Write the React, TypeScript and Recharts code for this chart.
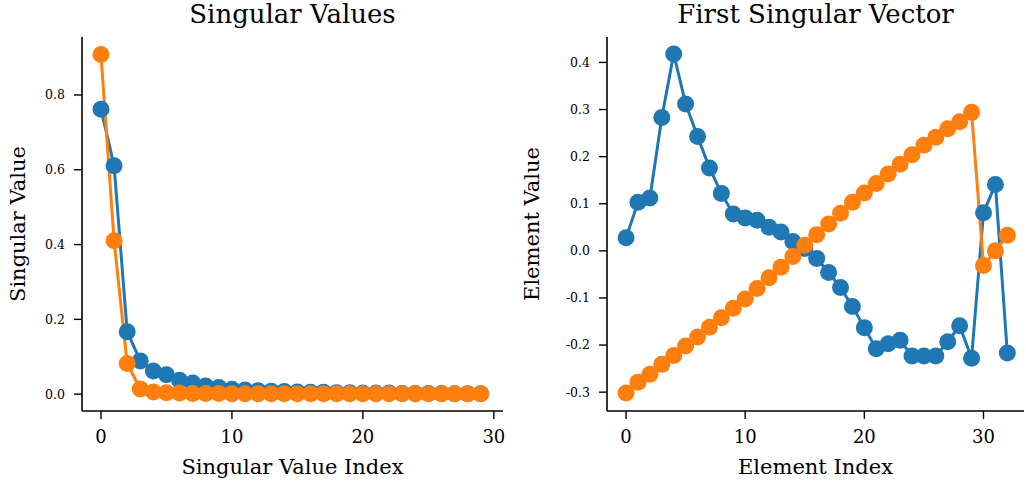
import { LineChart, Line, XAxis, YAxis, Label } from 'recharts';

const svIndex = [0, 1, 2, 3, 4, 5, 6, 7, 8, 9, 10, 11, 12, 13, 14, 15, 16, 17, 18, 19, 20, 21, 22, 23, 24, 25, 26, 27, 28, 29];
const svBlue = [0.762, 0.611, 0.167, 0.089, 0.062, 0.052, 0.037, 0.03, 0.022, 0.018, 0.013, 0.011, 0.009, 0.008, 0.007, 0.006, 0.005, 0.005, 0.004, 0.004, 0.003, 0.003, 0.003, 0.002, 0.002, 0.002, 0.002, 0.001, 0.001, 0.001];
const svOrange = [0.908, 0.41, 0.082, 0.014, 0.006, 0.004, 0.003, 0.002, 0.002, 0.002, 0.001, 0.001, 0.001, 0.001, 0.001, 0.001, 0.001, 0.001, 0.001, 0.001, 0.001, 0.001, 0.001, 0.001, 0.001, 0.001, 0.001, 0.001, 0.001, 0.001];

const elIndex = [0, 1, 2, 3, 4, 5, 6, 7, 8, 9, 10, 11, 12, 13, 14, 15, 16, 17, 18, 19, 20, 21, 22, 23, 24, 25, 26, 27, 28, 29, 30, 31, 32];
const vecBlue = [0.028, 0.103, 0.112, 0.283, 0.418, 0.312, 0.243, 0.176, 0.122, 0.078, 0.07, 0.065, 0.05, 0.04, 0.02, 0.005, -0.016, -0.046, -0.078, -0.118, -0.163, -0.208, -0.197, -0.19, -0.223, -0.223, -0.223, -0.193, -0.159, -0.228, 0.081, 0.141, -0.217];
const vecOrange = [-0.302, -0.279, -0.262, -0.241, -0.222, -0.202, -0.183, -0.162, -0.142, -0.122, -0.102, -0.08, -0.057, -0.035, -0.012, 0.012, 0.034, 0.057, 0.08, 0.103, 0.123, 0.143, 0.163, 0.184, 0.204, 0.224, 0.241, 0.259, 0.274, 0.294, -0.031, 0.0, 0.033];

const xTicks = [0, 10, 20, 30];
const svYTicks = [0, 0.2, 0.4, 0.6, 0.8];
const vecYTicks = [-0.3, -0.2, -0.1, 0, 0.1, 0.2, 0.3, 0.4];

const BLUE = '#1f77b4';
const ORANGE = '#ff7f0e';
const FONT = '"DejaVu Serif", serif';

const svData = svIndex.map((i, k) => ({ x: i, a: svBlue[k], b: svOrange[k] }));
const vecData = elIndex.map((i, k) => ({ x: i, a: vecBlue[k], b: vecOrange[k] }));

const axisLine = { stroke: '#000', strokeWidth: 1.6 };
const tickLine = { stroke: '#000', strokeWidth: 1.4 };
const xTick = { fill: '#000', fontSize: 18, fontFamily: FONT };
const yTick = { fill: '#000', fontSize: 12.5, fontFamily: FONT };
const labelStyle = { fill: '#000', fontSize: 21, fontFamily: FONT };

function Dot(color: string) {
  return (props: any) => {
    const { cx, cy, key } = props;
    if (cx == null || cy == null) return null;
    return <circle key={key} cx={cx} cy={cy} r={8.5} fill={color} />;
  };
}

export default function App() {
  return (
    <div style={{ position: 'absolute', left: 0, top: 0, width: 1026, height: 488, background: '#fff', fontFamily: FONT }}>
      <div style={{ position: 'absolute', left: 82, width: 421, top: 0, textAlign: 'center', fontSize: 26, lineHeight: '28px', color: '#000' }}>
        Singular Values
      </div>
      <div style={{ position: 'absolute', left: 607, width: 417, top: 0, textAlign: 'center', fontSize: 26, lineHeight: '28px', color: '#000' }}>
        First Singular Vector
      </div>

      <div style={{ position: 'absolute', left: 0, top: 0 }}>
        <LineChart width={520} height={488} data={svData} margin={{ top: 37, right: 17, bottom: 0, left: 0 }}>
          <XAxis
            dataKey="x"
            type="number"
            domain={[-1.45, 30.7]}
            ticks={xTicks}
            allowDataOverflow
            height={77}
            tickSize={8}
            tickMargin={11}
            axisLine={axisLine}
            tickLine={tickLine}
            tick={xTick}
          >
            <Label value="Singular Value Index" position="insideBottom" offset={14} style={labelStyle} />
          </XAxis>
          <YAxis
            type="number"
            domain={[-0.045, 0.955]}
            ticks={svYTicks}
            allowDataOverflow
            width={82}
            tickSize={8}
            tickMargin={9}
            axisLine={axisLine}
            tickLine={tickLine}
            tickFormatter={(v: number) => v.toFixed(1)}
            tick={yTick}
          >
            <Label value="Singular Value" angle={-90} position="insideLeft" offset={18} style={{ ...labelStyle, textAnchor: 'middle' }} />
          </YAxis>
          <Line dataKey="a" stroke={BLUE} strokeWidth={3} dot={Dot(BLUE)} isAnimationActive={false} />
          <Line dataKey="b" stroke={ORANGE} strokeWidth={3} dot={Dot(ORANGE)} isAnimationActive={false} />
        </LineChart>
      </div>

      <div style={{ position: 'absolute', left: 520, top: 0 }}>
        <LineChart width={506} height={488} data={vecData} margin={{ top: 37, right: 2, bottom: 0, left: 0 }}>
          <XAxis
            dataKey="x"
            type="number"
            domain={[-1.6, 33.4]}
            ticks={xTicks}
            allowDataOverflow
            height={77}
            tickSize={8}
            tickMargin={11}
            axisLine={axisLine}
            tickLine={tickLine}
            tick={xTick}
          >
            <Label value="Element Index" position="insideBottom" offset={14} style={labelStyle} />
          </XAxis>
          <YAxis
            type="number"
            domain={[-0.34, 0.454]}
            ticks={vecYTicks}
            allowDataOverflow
            width={87}
            tickSize={8}
            tickMargin={9}
            axisLine={axisLine}
            tickLine={tickLine}
            tickFormatter={(v: number) => v.toFixed(1)}
            tick={yTick}
          >
            <Label value="Element Value" angle={-90} position="insideLeft" offset={12} style={{ ...labelStyle, textAnchor: 'middle' }} />
          </YAxis>
          <Line dataKey="a" stroke={BLUE} strokeWidth={3} dot={Dot(BLUE)} isAnimationActive={false} />
          <Line dataKey="b" stroke={ORANGE} strokeWidth={3} dot={Dot(ORANGE)} isAnimationActive={false} />
        </LineChart>
      </div>
    </div>
  );
}
